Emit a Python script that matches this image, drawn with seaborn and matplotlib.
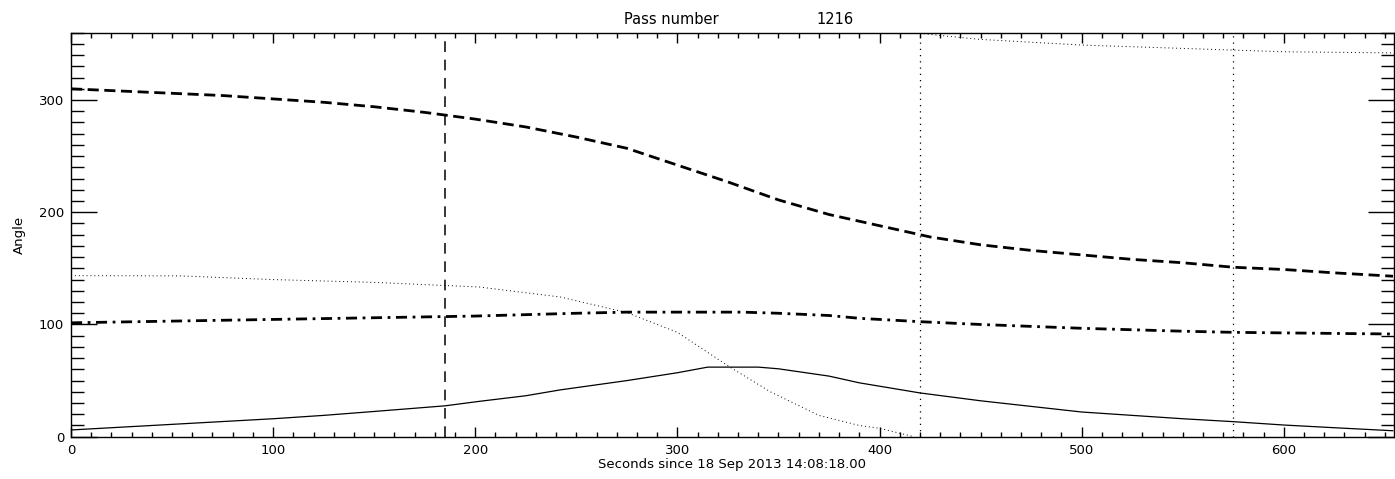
import numpy as np
import pandas as pd
import matplotlib
matplotlib.use("Agg")
import matplotlib.pyplot as plt
import seaborn as sns

# ---- data ----
t = [0, 25, 50, 75, 100, 125, 150, 185, 202, 225, 242, 275, 300, 315, 340,
     350, 375, 390, 420, 450, 500, 550, 575, 600, 625, 654]
elevation = [6, 8.5, 11, 13.5, 16, 19, 22.5, 27.5, 31.5, 36.5, 41.7, 50, 57, 62, 62,
             60.5, 54, 48, 39, 32, 22, 16, 13.4, 10.4, 8, 5.3]
t_az = [0, 25, 50, 75, 100, 125, 150, 175, 200, 225, 250, 275, 300, 325,
        350, 375, 400, 425, 450, 475, 500, 525, 550, 575, 600, 625, 654]
azimuth = [310, 308, 306, 304, 301, 298, 294, 289, 283, 276, 267, 257, 242, 227,
           211, 198, 188, 178, 171, 166, 162, 158, 155, 151, 149, 146, 143]
t_b = [0, 50, 100, 150, 200, 250, 275, 300, 332, 350, 375, 390, 420, 450,
       500, 550, 575, 600, 654]
angle_b = [101.5, 103, 104.5, 106, 107.5, 110, 111, 111, 111, 110, 108, 105.5, 102.5, 100,
           96.6, 94, 93, 92.5, 91.5]
t_dot1 = [0, 54, 100, 150, 202, 242, 275, 300, 326, 346, 370, 390, 400, 417]
angle_dot1 = [143.5, 143.3, 140, 137.5, 133.4, 124.5, 110.6, 93, 62, 40, 19, 10, 7.5, 0]
t_dot2 = [420, 430, 450, 500, 550, 575, 600, 654]
angle_dot2 = [359.5, 357.5, 354, 349, 346, 344.5, 343, 342]
vline_dashed = [185]
vline_dotted = [420, 575]
pass_number = "1216"
x_label = "Seconds since 18 Sep 2013 14:08:18.00"
y_label = "Angle"

sns.set_style("white")
plt.rcParams['font.family'] = ['DejaVu Sans']
plt.rcParams['text.color'] = 'black'
plt.rcParams['axes.labelcolor'] = 'black'
plt.rcParams['xtick.color'] = 'black'
plt.rcParams['ytick.color'] = 'black'

fig = plt.figure(figsize=(13.95, 4.79), dpi=100)
ax = fig.add_axes([71/1395, 42.3/479, 1323/1395, 404/479])

df_el = pd.DataFrame({"t": t, "elev": elevation})
df_az = pd.DataFrame({"t": t_az, "az": azimuth})
df_b = pd.DataFrame({"t": t_b, "b": angle_b})
df_d1 = pd.DataFrame({"t": t_dot1, "a": angle_dot1})
df_d2 = pd.DataFrame({"t": t_dot2, "a": angle_dot2})

sns.lineplot(data=df_az, x="t", y="az", ax=ax, color="black", lw=2.0,
             linestyle=(0, (4, 2)))
sns.lineplot(data=df_b, x="t", y="b", ax=ax, color="black", lw=2.0,
             linestyle=(0, (4, 2, 1, 2)))
sns.lineplot(data=df_el, x="t", y="elev", ax=ax, color="black", lw=0.9)
sns.lineplot(data=df_d1, x="t", y="a", ax=ax, color="black", lw=0.7,
             linestyle=(0, (1, 3)))
sns.lineplot(data=df_d2, x="t", y="a", ax=ax, color="black", lw=0.7,
             linestyle=(0, (1, 3)))

for v in vline_dashed:
    ax.axvline(v, color="black", lw=1.1, linestyle=(0, (7, 5)))
for v in vline_dotted:
    ax.axvline(v, color="black", lw=0.9, linestyle=(0, (1, 4)))

ax.set_xlim(0, 654.5)
ax.set_ylim(0, 360)
ax.set_xticks(np.arange(0, 601, 100))
ax.set_xticks(np.arange(0, 655, 10), minor=True)
ax.set_yticks(np.arange(0, 301, 100))
ax.set_yticks(np.arange(0, 361, 10), minor=True)

ax.tick_params(axis="x", which="major", direction="in", length=7, width=1,
               top=True, bottom=True, labelsize=9.5, pad=5)
ax.tick_params(axis="x", which="minor", direction="in", length=3.8, width=1,
               top=True, bottom=True)
ax.tick_params(axis="y", which="major", direction="in", length=19, width=1,
               left=True, right=True, labelsize=9.5, pad=5)
ax.tick_params(axis="y", which="minor", direction="in", length=9.5, width=1,
               left=True, right=True)
for s in ax.spines.values():
    s.set_color("black")
    s.set_linewidth(1.0)

ax.set_xlabel(x_label, fontsize=9.5, labelpad=1)
ax.set_ylabel(y_label, fontsize=9.5, labelpad=9)

fig.text(671/1395, 1 - 19/479, "Pass number", ha="center", va="center", fontsize=10.5)
fig.text(835/1395, 1 - 19/479, pass_number, ha="center", va="center", fontsize=10.5)

fig.savefig("out.png", dpi=100)
